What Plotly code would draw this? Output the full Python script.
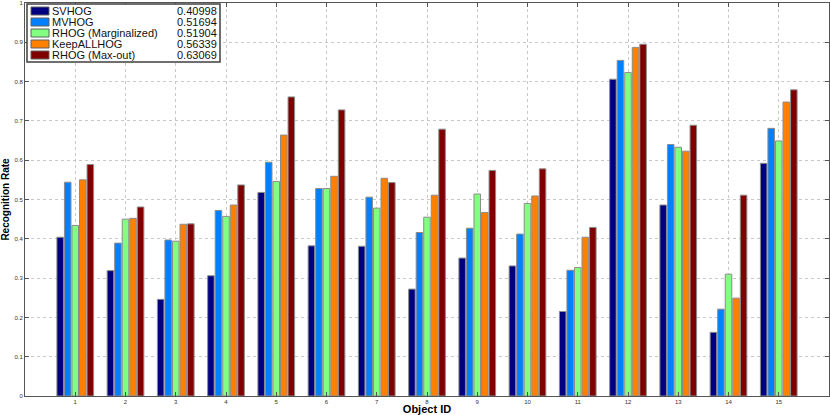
import plotly.graph_objects as go

object_ids = list(range(1, 16))
series_names = ["SVHOG", "MVHOG", "RHOG (Marginalized)", "KeepALLHOG", "RHOG (Max-out)"]
legend_scores = ["0.40998", "0.51694", "0.51904", "0.56339", "0.63069"]
colors = ["#000080", "#0080ff", "#80ff80", "#ff8000", "#800000"]

svhog = [0.404, 0.319, 0.246, 0.306, 0.518, 0.382, 0.381, 0.272, 0.351, 0.331, 0.215, 0.806, 0.486, 0.162, 0.592]
mvhog = [0.544, 0.389, 0.397, 0.472, 0.595, 0.528, 0.506, 0.416, 0.427, 0.412, 0.320, 0.854, 0.640, 0.221, 0.681]
rhog_marg = [0.434, 0.450, 0.394, 0.457, 0.546, 0.528, 0.478, 0.455, 0.514, 0.490, 0.327, 0.823, 0.633, 0.310, 0.649]
keepall = [0.550, 0.452, 0.437, 0.486, 0.664, 0.559, 0.554, 0.511, 0.467, 0.509, 0.404, 0.887, 0.623, 0.249, 0.748]
rhog_max = [0.589, 0.481, 0.438, 0.537, 0.761, 0.728, 0.543, 0.679, 0.574, 0.578, 0.429, 0.895, 0.689, 0.511, 0.779]

series_values = [svhog, mvhog, rhog_marg, keepall, rhog_max]

fig = go.Figure()
for name, vals, col in zip(series_names, series_values, colors):
    fig.add_trace(go.Bar(
        x=object_ids, y=vals, name=name, showlegend=False,
        marker=dict(color=col, line=dict(color="#8c8c8c", width=1)),
    ))

# Manual MATLAB-style legend (compact rows)
lx0, lx1 = 27, 220
ly0, ly1 = 4, 62
W, H = 830, 415
ml, mr, mt, mb = 25, 1, 3, 19
pw = W - ml - mr
ph = H - mt - mb

def px(x):
    return (x - ml) / pw

def py(y):
    return 1 - (y - mt) / ph

shapes = [dict(type="rect", xref="paper", yref="paper",
               x0=px(lx0), x1=px(lx1), y0=py(ly1), y1=py(ly0),
               line=dict(color="#404040", width=1.5), fillcolor="white", layer="above")]
annotations = []
row_y = [11, 22, 33, 44, 55]
for i, (name, score, col) in enumerate(zip(series_names, legend_scores, colors)):
    yc = row_y[i]
    shapes.append(dict(type="rect", xref="paper", yref="paper",
                       x0=px(31), x1=px(49), y0=py(yc + 4), y1=py(yc - 4),
                       line=dict(color="#606060", width=1), fillcolor=col, layer="above"))
    annotations.append(dict(xref="paper", yref="paper", x=px(50.5), y=py(yc),
                            text=name, showarrow=False, xanchor="left", yanchor="middle",
                            borderpad=0,
                            font=dict(family="Liberation Sans, Arial", size=11, color="#111")))
    annotations.append(dict(xref="paper", yref="paper", x=px(218), y=py(yc),
                            text=score, showarrow=False, xanchor="right", yanchor="middle",
                            borderpad=0,
                            font=dict(family="Liberation Sans, Arial", size=11, color="#111")))

fig.update_layout(
    width=W, height=H,
    margin=dict(l=ml, r=mr, t=mt, b=mb),
    barmode="group", bargap=0.25, bargroupgap=0.13,
    plot_bgcolor="white", paper_bgcolor="white",
    shapes=shapes, annotations=annotations,
    font=dict(family="Liberation Sans, Arial", color="#222"),
)
fig.update_xaxes(
    range=[0, 16], tickmode="array", tickvals=object_ids,
    ticks="inside", ticklen=4, tickcolor="#555", mirror="ticks",
    showline=True, linecolor="#555", linewidth=1,
    showgrid=True, gridcolor="#c8c8c8", griddash="dot", gridwidth=1,
    tickfont=dict(size=6, color="#333"), zeroline=False,
    title=dict(text="<b>Object ID</b>", font=dict(size=11, color="#000"), standoff=1),
    automargin=False,
)
fig.update_yaxes(
    range=[0, 1], dtick=0.1, tick0=0,
    ticks="inside", ticklen=4, tickcolor="#555", mirror="ticks",
    showline=True, linecolor="#555", linewidth=1,
    showgrid=True, gridcolor="#c8c8c8", griddash="dot", gridwidth=1,
    tickfont=dict(size=6, color="#333"), zeroline=False,
    title=dict(text="<b>Recognition Rate</b>", font=dict(size=10, color="#000"), standoff=2),
    automargin=False,
)

fig.write_html("out.html", config={"displayModeBar": False},
               post_script="document.body.style.margin='0';")
